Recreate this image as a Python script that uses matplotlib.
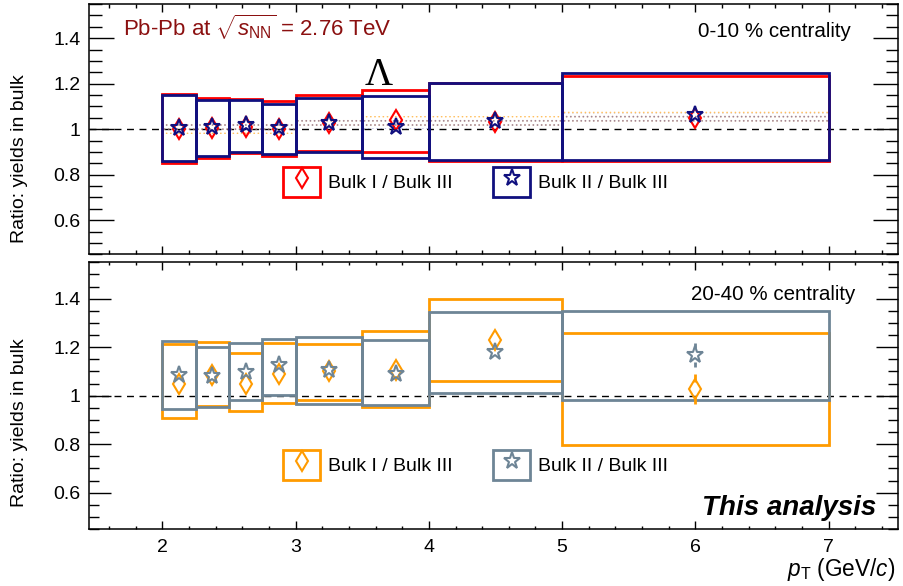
import matplotlib
matplotlib.use('Agg')
import matplotlib.pyplot as plt
from matplotlib.patches import Rectangle
from matplotlib.lines import Line2D
from matplotlib.legend_handler import HandlerTuple
import numpy as np

plt.rcParams['font.family'] = ['Liberation Sans', 'DejaVu Sans']
plt.rcParams['mathtext.fontset'] = 'custom'
plt.rcParams['mathtext.rm'] = 'Liberation Sans'
plt.rcParams['mathtext.it'] = 'Liberation Sans:italic'
plt.rcParams['hatch.linewidth'] = 0.7

# ---------------- data ----------------
pt_lo = [2.0, 2.25, 2.5, 2.75, 3.0, 3.5, 4.0, 5.0]
pt_hi = [2.25, 2.5, 2.75, 3.0, 3.5, 4.0, 5.0, 7.0]
pt = [2.125, 2.375, 2.625, 2.875, 3.25, 3.75, 4.5, 6.0]

# 0-10 % centrality
c010_I = [1.000, 1.005, 1.010, 1.000, 1.025, 1.040, 1.030, 1.050]
c010_I_stat = [0.004, 0.004, 0.004, 0.004, 0.005, 0.006, 0.008, 0.012]
c010_I_sys_lo = [0.851, 0.873, 0.893, 0.882, 0.905, 0.901, 0.860, 0.859]
c010_I_sys_hi = [1.155, 1.135, 1.133, 1.123, 1.151, 1.171, 1.205, 1.233]
c010_I_corr_lo = [0.980, 0.980, 0.980, 0.980, 1.012, 1.012, 1.010, 1.022]
c010_I_corr_hi = [1.030, 1.030, 1.030, 1.030, 1.047, 1.058, 1.057, 1.083]

c010_II = [1.005, 1.010, 1.017, 1.003, 1.025, 1.010, 1.036, 1.061]
c010_II_stat = [0.004, 0.004, 0.004, 0.004, 0.005, 0.006, 0.008, 0.012]
c010_II_sys_lo = [0.862, 0.882, 0.900, 0.889, 0.900, 0.875, 0.866, 0.866]
c010_II_sys_hi = [1.152, 1.127, 1.127, 1.110, 1.139, 1.146, 1.201, 1.245]
c010_II_corr_lo = [0.990, 0.990, 0.990, 0.990, 1.005, 1.000, 1.012, 1.026]
c010_II_corr_hi = [1.022, 1.022, 1.022, 1.022, 1.040, 1.040, 1.050, 1.070]

# 20-40 % centrality
c2040_I = [1.050, 1.085, 1.050, 1.091, 1.100, 1.105, 1.231, 1.027]
c2040_I_stat = [0.005, 0.005, 0.005, 0.006, 0.007, 0.009, 0.012, 0.063]
c2040_I_sys_lo = [0.906, 0.958, 0.937, 0.968, 0.981, 0.954, 1.060, 0.796]
c2040_I_sys_hi = [1.215, 1.222, 1.176, 1.217, 1.211, 1.265, 1.400, 1.260]

c2040_II = [1.084, 1.080, 1.098, 1.126, 1.105, 1.091, 1.178, 1.167]
c2040_II_stat = [0.005, 0.005, 0.005, 0.006, 0.007, 0.009, 0.012, 0.050]
c2040_II_sys_lo = [0.944, 0.954, 0.981, 1.002, 0.964, 0.961, 1.012, 0.981]
c2040_II_sys_hi = [1.224, 1.201, 1.219, 1.232, 1.242, 1.231, 1.345, 1.349]

legend_labels = ['Bulk I / Bulk III', 'Bulk II / Bulk III']
ytick_vals = [0.6, 0.8, 1.0, 1.2, 1.4]
ytick_labels = ['0.6', '0.8', '1', '1.2', '1.4']
xtick_vals = [2, 3, 4, 5, 6, 7]
xtick_labels = ['2', '3', '4', '5', '6', '7']

RED = '#ff0000'
BLUE = '#10107f'
ORANGE = '#ff9b00'
GRAY = '#6e8596'

W, H = 904, 586
fig = plt.figure(figsize=(W / 100, H / 100), dpi=100)
ax1 = fig.add_axes([89 / W, 1 - 254.3 / H, 809 / W, 250.3 / H])
ax2 = fig.add_axes([89 / W, 1 - 529 / H, 809 / W, 266.7 / H])


def draw_boxes(ax, lo, hi, ylo, yhi, color, z):
    for a, b, c, d in zip(lo, hi, ylo, yhi):
        ax.add_patch(Rectangle((a, c), b - a, d - c, fill=False, ec=color,
                               lw=2.0, zorder=z))


def draw_bands(ax, lo, hi, ylo, yhi, color, z):
    for a, b, c, d in zip(lo, hi, ylo, yhi):
        ax.add_patch(Rectangle((a, c), b - a, d - c, fill=False, ec=color,
                               lw=0, hatch='....', alpha=0.5, zorder=z))


def draw_points(ax, x, y, err, color, marker, ms, z, gap=0.028):
    for xi, yi, ei in zip(x, y, err):
        if ei > gap:
            ax.vlines(xi, yi - ei, yi - gap, color=color, lw=2, zorder=z)
            ax.vlines(xi, yi + gap, yi + ei, color=color, lw=2, zorder=z)
    ax.plot(x, y, ls='none', marker=marker, mfc='none', mec=color, ms=ms,
            mew=1.5, zorder=z + 0.5)


def style_axis(ax, ylen, xlen, show_xlabels):
    ax.set_xlim(1.45, 7.52)
    ax.set_ylim(0.45, 1.55)
    ax.set_yticks(ytick_vals)
    ax.set_yticklabels(ytick_labels)
    ax.set_xticks(xtick_vals)
    ax.set_xticklabels(xtick_labels if show_xlabels else [])
    ax.set_yticks(np.arange(0.45, 1.551, 0.05), minor=True)
    ax.set_xticks(np.arange(1.6, 7.51, 0.2), minor=True)
    ax.tick_params(which='both', direction='in', top=True, right=True,
                   width=1.0, labelsize=14, colors='black')
    ax.tick_params(axis='y', which='major', length=ylen[0], pad=6)
    ax.tick_params(axis='y', which='minor', length=ylen[1])
    ax.tick_params(axis='x', which='major', length=xlen[0], pad=7)
    ax.tick_params(axis='x', which='minor', length=xlen[1])
    for s in ax.spines.values():
        s.set_linewidth(1.1)
    ax.axhline(1.0, color='black', ls=(0, (5, 4)), lw=1.0, zorder=1)


def add_legend(ax, colors, markers, sizes, anchor):
    handles = []
    for c, m, s in zip(colors, markers, sizes):
        box = Rectangle((0, 0), 1, 1, fill=False, ec=c, lw=2.0)
        mk = Line2D([], [], ls='none', marker=m, mfc='none', mec=c, ms=s, mew=1.5)
        handles.append((box, mk))
    ax.legend(handles, legend_labels,
              handler_map={tuple: HandlerTuple(ndivide=1, pad=0)},
              loc='center left', bbox_to_anchor=anchor, ncol=2, frameon=False,
              fontsize=14, handlelength=1.9, handleheight=2.0, handletextpad=0.4,
              columnspacing=2.1, borderpad=0, borderaxespad=0, numpoints=1)


# ---------- top panel: 0-10 % ----------
style_axis(ax1, (18, 9), (6, 3), False)
draw_bands(ax1, pt_lo, pt_hi, c010_I_corr_lo, c010_I_corr_hi, ORANGE, 2)
draw_bands(ax1, pt_lo, pt_hi, c010_II_corr_lo, c010_II_corr_hi, '#6060c0', 2)
draw_boxes(ax1, pt_lo, pt_hi, c010_I_sys_lo, c010_I_sys_hi, RED, 3)
draw_boxes(ax1, pt_lo, pt_hi, c010_II_sys_lo, c010_II_sys_hi, BLUE, 4)
draw_points(ax1, pt, c010_I, c010_I_stat, RED, 'd', 10.5, 5)
draw_points(ax1, pt, c010_II, c010_II_stat, BLUE, '*', 12.5, 6)
add_legend(ax1, [RED, BLUE], ['d', '*'], [10.5, 12.5], (0.24, 0.289))

# ---------- bottom panel: 20-40 % ----------
style_axis(ax2, (16, 7.5), (6, 2.5), True)
draw_boxes(ax2, pt_lo, pt_hi, c2040_I_sys_lo, c2040_I_sys_hi, ORANGE, 3)
draw_boxes(ax2, pt_lo, pt_hi, c2040_II_sys_lo, c2040_II_sys_hi, GRAY, 4)
draw_points(ax2, pt, c2040_I, c2040_I_stat, ORANGE, 'd', 10.5, 5)
draw_points(ax2, pt, c2040_II, c2040_II_stat, GRAY, '*', 12.5, 6)
add_legend(ax2, [ORANGE, GRAY], ['d', '*'], [10.5, 12.5], (0.24, 0.24))

# ---------- texts ----------
fig.text(123 / W, 1 - 36.5 / H, r'Pb-Pb at $\sqrt{s_{\mathrm{NN}}}$ = 2.76 TeV',
         color='#8b1010', fontsize=16, ha='left', va='baseline')
fig.text(851 / W, 1 - 37 / H, '0-10 % centrality', fontsize=14.8, ha='right', va='baseline')
fig.text(855 / W, 1 - 300 / H, '20-40 % centrality', fontsize=14.8, ha='right', va='baseline')
fig.text(379 / W, 1 - 85 / H, 'Λ', family=['Liberation Serif', 'DejaVu Serif'],
         fontsize=28, ha='center', va='baseline')
fig.text(876 / W, 1 - 515 / H, 'This analysis', fontsize=20, fontweight='bold',
         fontstyle='italic', ha='right', va='baseline')
fig.text(895 / W, 1 - 576 / H, r'$p_{\mathrm{T}}$ (GeV/$c$)', fontsize=16.3,
         ha='right', va='baseline')
fig.text(20 / W, 1 - 159 / H, 'Ratio: yields in bulk', fontsize=14, rotation=90,
         ha='center', va='center')
fig.text(20 / W, 1 - 423 / H, 'Ratio: yields in bulk', fontsize=14, rotation=90,
         ha='center', va='center')

fig.savefig('out.png', dpi=100)
